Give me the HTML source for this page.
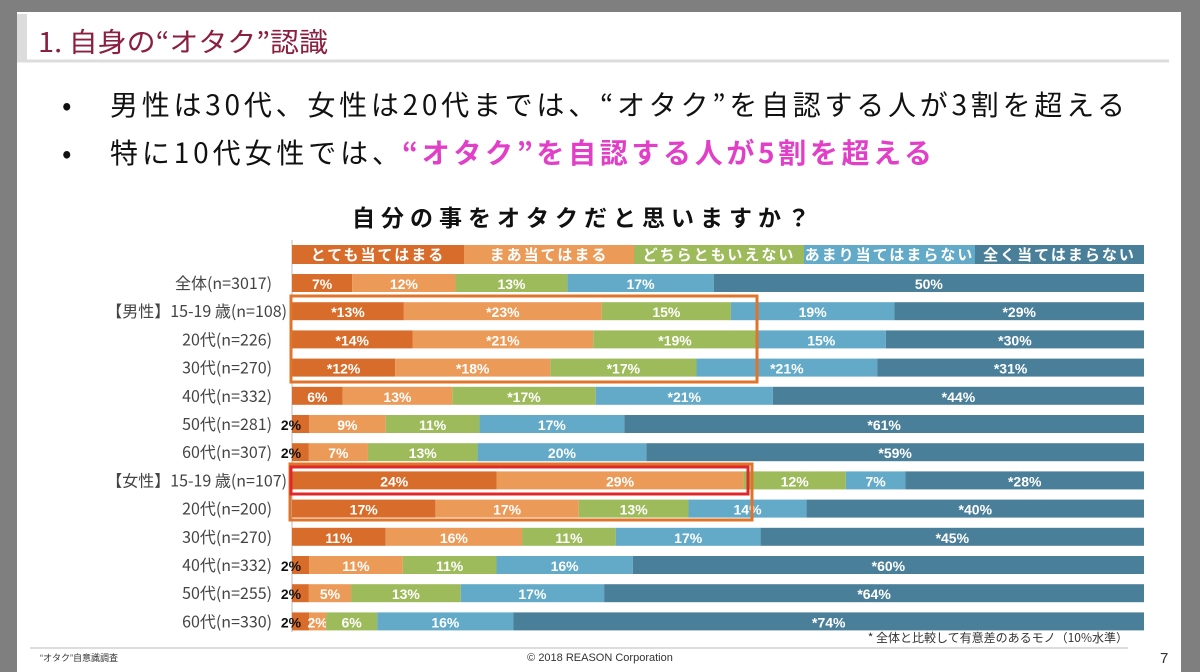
<!DOCTYPE html>
<html><head><meta charset="utf-8">
<style>
body{margin:0;width:1200px;height:667px;background:#7f7f7f;overflow:hidden;font-family:"Liberation Sans","Noto Sans CJK JP",sans-serif;}
#slide{position:absolute;left:17px;top:12px;width:1164px;height:660px;background:#fff;}
.jp{font-family:"Noto Sans CJK JP",sans-serif;}
</style></head>
<body>
<div id="slide"></div>
<svg id="chart" width="1200" height="667" style="position:absolute;left:0;top:0">
  <rect x="17" y="14" width="10" height="48" fill="#dcdcdc"/>
  <line x1="17" y1="61" x2="1169" y2="61" stroke="#dcdcdc" stroke-width="3"/>
  <text class="jp" x="38" y="52" font-size="27" fill="#8b1f3f" textLength="290" lengthAdjust="spacingAndGlyphs">1. 自身の“オタク”認識</text>
  <text class="jp" x="62" y="115" font-size="28" fill="#111">•</text>
  <text class="jp" x="110" y="115" font-size="28" fill="#111" textLength="1015">男性は30代、女性は20代までは、“オタク”を自認する人が3割を超える</text>
  <text class="jp" x="62" y="163" font-size="28" fill="#111">•</text>
  <text class="jp" x="110" y="163" font-size="28" fill="#111" textLength="290">特に10代女性では、</text>
  <text class="jp" x="402" y="163" font-size="28" fill="#e23fc9" font-weight="bold" textLength="530">“オタク”を自認する人が5割を超える</text>
  <text class="jp" x="352" y="226" font-size="23" font-weight="bold" fill="#111" textLength="458">自分の事をオタクだと思いますか？</text>
  <line x1="292" y1="240" x2="292" y2="632" stroke="#bbb" stroke-width="1"/>
  <g id="legend"></g>
  <g id="bars"></g>
  <rect x="291" y="296" width="466" height="86" fill="none" stroke="#e0742a" stroke-width="3"/>
  <rect x="290" y="464" width="462" height="56" fill="none" stroke="#e0742a" stroke-width="3"/>
  <rect x="291" y="467" width="457" height="27" fill="none" stroke="#e0282a" stroke-width="3"/>
  <text class="jp" x="1128" y="642" font-size="12" text-anchor="end" fill="#333">* 全体と比較して有意差のあるモノ（10%水準）</text>
  <line x1="30" y1="648" x2="1128" y2="648" stroke="#ddd" stroke-width="2"/>
  <text x="40" y="661" font-size="9" fill="#333">“オタク”自意識調査</text>
  <text x="600" y="661" font-size="11" text-anchor="middle" fill="#333">© 2018 REASON Corporation</text>
  <text x="1160" y="663" font-size="15" fill="#333">7</text>
</svg>
<script>
const categories=["全体(n=3017)","【男性】15-19 歳(n=108)","20代(n=226)","30代(n=270)","40代(n=332)","50代(n=281)","60代(n=307)","【女性】15-19 歳(n=107)","20代(n=200)","30代(n=270)","40代(n=332)","50代(n=255)","60代(n=330)"];
const seriesNames=["とても当てはまる","まあ当てはまる","どちらともいえない","あまり当てはまらない","全く当てはまらない"];
const s1=[7,13,14,12,6,2,2,24,17,11,2,2,2];
const s2=[12,23,21,18,13,9,7,29,17,16,11,5,2];
const s3=[13,15,19,17,17,11,13,12,13,11,11,13,6];
const s4=[17,19,15,21,21,17,20,7,14,17,16,17,16];
const s5=[50,29,30,31,44,61,59,28,40,45,60,64,74];
const sig1=[0,1,1,1,0,0,0,0,0,0,0,0,0];
const sig2=[0,1,1,1,0,0,0,0,0,0,0,0,0];
const sig3=[0,0,1,1,1,0,0,0,0,0,0,0,0];
const sig4=[0,0,0,1,1,0,0,0,0,0,0,0,0];
const sig5=[0,1,1,1,1,1,1,1,1,1,1,1,1];
const colors=["#d86d2b","#eb9a58","#9dbb5a","#62aac8","#4a7f99"];
const NS="http://www.w3.org/2000/svg";
const X0=292,W=852,ROW0=283,STEP=28.2,BH=18;
function xs(frac){return X0+frac*W;}
function yc(i){return ROW0+i*STEP;}
function mk(tag,attrs,parent){const e=document.createElementNS(NS,tag);for(const k in attrs)e.setAttribute(k,attrs[k]);parent.appendChild(e);return e;}
const series=[s1,s2,s3,s4,s5],sigs=[sig1,sig2,sig3,sig4,sig5];
const leg=document.getElementById('legend');
let lx=X0;
const lw=[172,170,170,171,169];
seriesNames.forEach((n,k)=>{
  const w=W*lw[k]/852;
  const r=mk('rect',{x:lx,y:245,width:w,height:19,fill:colors[k]},leg);
  
  
  const t=mk('text',{x:lx+w/2,y:260,'font-size':15,'font-weight':'bold','text-anchor':'middle',fill:'#fff','letter-spacing':2,class:'jp'},leg);
  t.textContent=n;
  
  
  lx+=w;
});
const g=document.getElementById('bars');
categories.forEach((c,i)=>{
  const y=yc(i);
  const lab=mk('text',{x:(i==1||i==7)?287:272,y:y+6,'font-size':16,'text-anchor':'end',fill:'#444',class:'jp'},g);
  lab.textContent=c;
  
  
  const tot=series.reduce((a,s)=>a+s[i],0);
  let cum=0;
  series.forEach((s,k)=>{
    const a=xs(cum/tot),b=xs((cum+s[i])/tot);
    const r=mk('rect',{x:a,y:y-BH/2,width:b-a,height:BH,fill:colors[k]},g);
    
    
    const txt=(sigs[k][i]?'*':'')+s[i]+'%';
    let t;
    if(k==0&&s[i]<=3){
      t=mk('text',{x:291,y:y+6,'font-size':14,'font-weight':'bold','text-anchor':'middle',fill:'#111'},g);
    }else{
      t=mk('text',{x:(a+b)/2,y:y+6,'font-size':14,'font-weight':'bold','text-anchor':'middle',fill:'#fff'},g);
    }
    t.textContent=txt;
    
    
    cum+=s[i];
  });
});
</script>
</body></html>
